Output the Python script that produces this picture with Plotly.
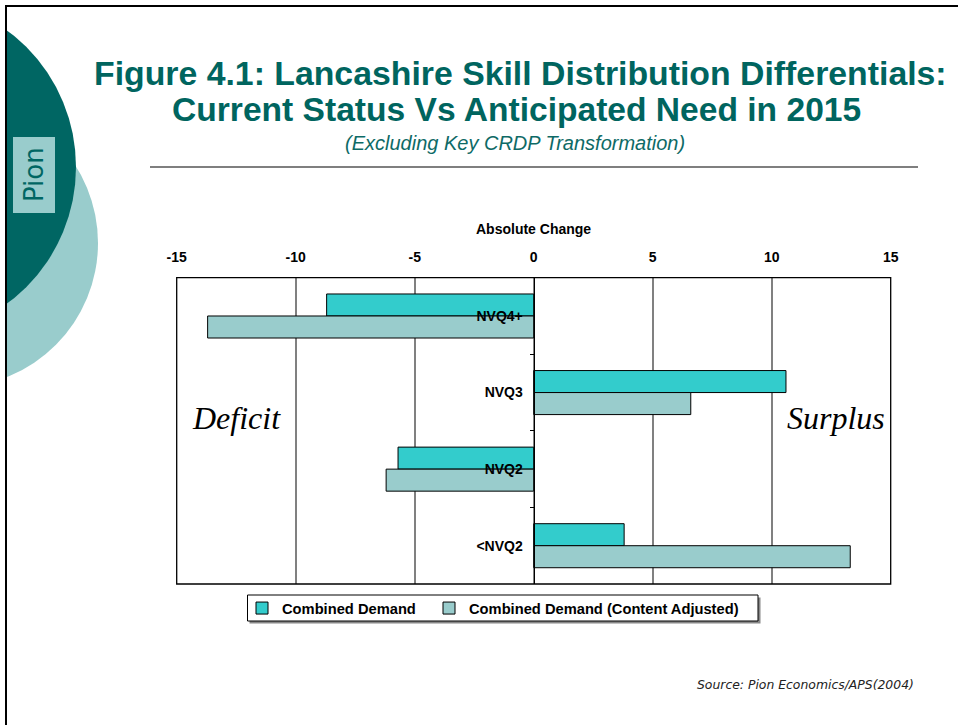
import plotly.graph_objects as go

W, H = 958, 725

# Skill levels, top to bottom
levels = ["NVQ4+", "NVQ3", "NVQ2", "<NVQ2"]
combined_demand = [-8.7, 10.6, -5.7, 3.8]
content_adjusted = [-13.7, 6.6, -6.2, 13.3]
x_ticks = [-15, -10, -5, 0, 5, 10, 15]

TEAL_DARK = "#00655F"
TEAL_BAR = "#33CCCC"
TEAL_LIGHT = "#99CCCC"
SANS = "Liberation Sans, Arial"


def px(x):
    return x / W


def py(y):
    return 1 - y / H


fig = go.Figure()
fig.add_trace(go.Bar(
    y=levels, x=combined_demand, orientation="h", name="Combined Demand",
    marker=dict(color=TEAL_BAR, line=dict(color="black", width=1)),
    legend="legend", showlegend=True,
))
fig.add_trace(go.Bar(
    y=levels, x=content_adjusted, orientation="h",
    name="Combined Demand (Content Adjusted)",
    marker=dict(color=TEAL_LIGHT, line=dict(color="black", width=1)),
    legend="legend2", showlegend=True,
))

plot_l, plot_r, plot_t, plot_b = 176.7, 890.7, 277.7, 584

shapes = [
    # decorative circles on the left edge
    dict(type="circle", xref="paper", yref="paper", layer="below",
         x0=px(-189), x1=px(98), y0=py(387), y1=py(99),
         fillcolor=TEAL_LIGHT, line=dict(width=0)),
    dict(type="circle", xref="paper", yref="paper", layer="below",
         x0=px(-264), x1=px(76), y0=py(337), y1=py(-3),
         fillcolor="#006663", line=dict(width=0)),
    dict(type="rect", xref="paper", yref="paper", layer="below",
         x0=px(-20), x1=px(5), y0=py(730), y1=py(-5),
         fillcolor="white", line=dict(width=0)),
    # "Pion" tab
    dict(type="rect", xref="paper", yref="paper", layer="below",
         x0=px(13), x1=px(55), y0=py(213), y1=py(137),
         fillcolor=TEAL_LIGHT, line=dict(width=0)),
    # page frame
    dict(type="line", xref="paper", yref="paper",
         x0=px(6), x1=px(960), y0=py(6), y1=py(6),
         line=dict(color="black", width=2)),
    dict(type="line", xref="paper", yref="paper",
         x0=px(6), x1=px(6), y0=py(5), y1=py(730),
         line=dict(color="black", width=2)),
    # rule under the title
    dict(type="line", xref="paper", yref="paper",
         x0=px(150), x1=px(918), y0=py(167), y1=py(167),
         line=dict(color="#555555", width=1.5)),
    # plot area border
    dict(type="rect", xref="paper", yref="paper",
         x0=px(plot_l), x1=px(plot_r), y0=py(plot_b), y1=py(plot_t),
         line=dict(color="black", width=1.3)),
    # legend frame with drop shadow
    dict(type="rect", xref="paper", yref="paper", layer="below",
         x0=px(249.5), x1=px(760.5), y0=py(623.5), y1=py(597.5),
         fillcolor="#888888", line=dict(width=0)),
    dict(type="rect", xref="paper", yref="paper", layer="below",
         x0=px(247.5), x1=px(758), y0=py(621), y1=py(595),
         fillcolor="white", line=dict(color="black", width=1)),
]


def note(text, x, y, size, family=SANS, color="black", **kw):
    d = dict(text=text, x=px(x), y=py(y), xref="paper", yref="paper",
             showarrow=False, xanchor="center", yanchor="middle",
             font=dict(family=family, size=size, color=color))
    d.update(kw)
    return d


annotations = [
    note("<b>Figure 4.1: Lancashire Skill Distribution Differentials:</b>",
         520, 73, 33.8, color=TEAL_DARK),
    note("<b>Current Status Vs Anticipated Need in 2015</b>",
         516, 110, 33.6, color=TEAL_DARK),
    note("<i>(Excluding Key CRDP Transformation)</i>",
         515, 143, 20, color="#0E6A66"),
    note("Pion", 34, 175, 26, family="DejaVu Sans, Verdana",
         color="#006663", textangle=-90),
    note("<b>Absolute Change</b>", 533.7, 229, 14),
    note("<i>Deficit</i>", 236, 418, 32,
         family="Liberation Serif, Times New Roman"),
    note("<i>Surplus</i>", 836, 418, 32,
         family="Liberation Serif, Times New Roman"),
    note("<i>Source: Pion Economics/APS(2004)</i>", 916, 684, 12.4,
         family="DejaVu Sans, Verdana", color="#222222", xanchor="right"),
]

legend_style = dict(
    orientation="h", xanchor="left", yanchor="top",
    bgcolor="rgba(0,0,0,0)", borderwidth=0, itemwidth=30,
    font=dict(family=SANS, size=14.7, color="black", weight="bold"),
)

fig.update_layout(
    width=W, height=H,
    margin=dict(l=0, r=0, t=0, b=0, autoexpand=False),
    paper_bgcolor="white", plot_bgcolor="white",
    showlegend=True,
    barmode="group", bargap=0.425, bargroupgap=0,
    shapes=shapes, annotations=annotations,
    font=dict(family=SANS, color="black"),
    legend=dict(legend_style, x=px(242), y=py(592)),
    legend2=dict(legend_style, x=px(429), y=py(592)),
    xaxis=dict(
        domain=[px(plot_l), px(plot_r)], side="top", range=[-15, 15],
        tickvals=x_ticks, ticktext=[str(v) for v in x_ticks],
        showgrid=True, gridcolor="#808080", gridwidth=1.5, zeroline=False,
        showline=False, ticks="", ticklabelstandoff=12, automargin=False,
        tickfont=dict(family=SANS, size=14, weight="bold"),
    ),
    yaxis=dict(
        domain=[py(plot_b), py(plot_t)], anchor="free", position=px(533.7),
        categoryorder="array", categoryarray=levels, autorange="reversed",
        showgrid=False, zeroline=False, showline=True, linecolor="black",
        linewidth=1.3, ticks="outside", ticklen=4, tickcolor="black",
        tickson="boundaries", ticklabelstandoff=8, automargin=False,
        tickfont=dict(family=SANS, size=14, weight="bold"),
    ),
)

fig.write_html("out.html")
